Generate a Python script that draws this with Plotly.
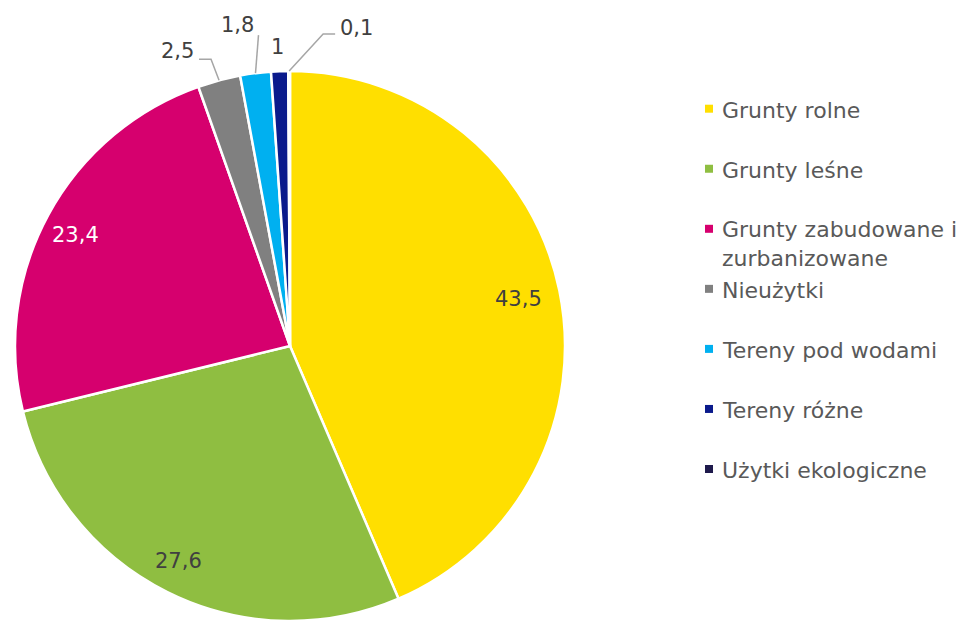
import math
import plotly.graph_objects as go

# Land-use structure (%)
categories = [
    "Grunty rolne",
    "Grunty leśne",
    "Grunty zabudowane i zurbanizowane",
    "Nieużytki",
    "Tereny pod wodami",
    "Tereny różne",
    "Użytki ekologiczne",
]
values = [43.5, 27.6, 23.4, 2.5, 1.8, 1.0, 0.1]
value_labels = ["43,5", "27,6", "23,4", "2,5", "1,8", "1", "0,1"]
legend_labels = [
    "Grunty rolne",
    "Grunty leśne",
    "Grunty zabudowane i<br>zurbanizowane",
    "Nieużytki",
    "Tereny pod wodami",
    "Tereny różne",
    "Użytki ekologiczne",
]
colors = ["#FFDF00", "#8FBE41", "#D6006E", "#808080", "#00B0F0", "#0A1A8C", "#1E1A4C"]

# ---- page geometry (pixels) ----
W, H = 977, 621
PIE_L, PIE_R, PIE_T, PIE_B = 15, 565, 71, 621
CX, CY = (PIE_L + PIE_R) / 2, (PIE_T + PIE_B) / 2
R = min(PIE_R - PIE_L, PIE_B - PIE_T) / 2

FONT = "DejaVu Sans"
LABEL_DARK = "#404040"
LEGEND_TEXT = "#595959"
LEADER = "#A6A6A6"


def px(x):
    return x / W


def py(y):
    return 1 - y / H


# mid angle of each slice, clockwise from 12 o'clock
total = sum(values)
mid_angles = []
acc = 0.0
for v in values:
    mid_angles.append((acc + v / 2) / total * 360.0)
    acc += v


def polar(angle_deg, radius):
    a = math.radians(angle_deg)
    return CX + radius * math.sin(a), CY - radius * math.cos(a)


fig = go.Figure(
    go.Pie(
        labels=categories,
        values=values,
        sort=False,
        direction="clockwise",
        rotation=0,
        marker=dict(colors=colors, line=dict(color="white", width=2.5)),
        textinfo="none",
        hoverinfo="label+value",
        showlegend=False,
        domain=dict(x=[px(PIE_L), px(PIE_R)], y=[py(PIE_B), py(PIE_T)]),
    )
)

annotations = []
shapes = []

# labels drawn inside the three large slices: (radius fraction, angle shift, colour)
inside_style = {
    0: (0.85, 0.0, LABEL_DARK),
    1: (0.88, 1.0, LABEL_DARK),
    2: (0.88, -1.0, "white"),
}
for i, (f, shift, col) in inside_style.items():
    x, y = polar(mid_angles[i] + shift, R * f)
    annotations.append(dict(
        x=px(x), y=py(y), xref="paper", yref="paper", text=value_labels[i],
        showarrow=False, xanchor="center", yanchor="middle",
        font=dict(family=FONT, size=21, color=col),
    ))

# small slices: leader-line bends and text offsets (pixels from the slice edge)
outside_style = {
    3: dict(path=[(-8, -21), (-20, -21)], text=(-23, -29), anchor="right"),
    4: dict(path=[(3, -38)], text=(1, -48), anchor="right"),
    5: dict(path=[], text=(-2, -24), anchor="center"),
    6: dict(path=[(34, -37), (46, -37)], text=(49, -43), anchor="left"),
}
for i, st in outside_style.items():
    ax, ay = polar(mid_angles[i], R)
    if st["path"]:
        pts = [(ax, ay)] + [(ax + dx, ay + dy) for dx, dy in st["path"]]
        d = "M " + " L ".join(f"{px(x):.5f},{py(y):.5f}" for x, y in pts)
        shapes.append(dict(type="path", xref="paper", yref="paper", path=d,
                           line=dict(color=LEADER, width=1.5)))
    tx, ty = ax + st["text"][0], ay + st["text"][1]
    annotations.append(dict(
        x=px(tx), y=py(ty), xref="paper", yref="paper", text=value_labels[i],
        showarrow=False, xanchor=st["anchor"], yanchor="middle",
        font=dict(family=FONT, size=21, color=LABEL_DARK),
    ))

# legend on the right: small square markers with category names
LEG_X_BOX = 705
LEG_BOX = 8
LEG_X_TEXT = 720
LEG_Y0 = 108.7
LEG_STEP = 60.05
LINE_H = 28
for i, (lab, col) in enumerate(zip(legend_labels, colors)):
    yc = LEG_Y0 + i * LEG_STEP
    shapes.append(dict(
        type="rect", xref="paper", yref="paper",
        x0=px(LEG_X_BOX), x1=px(LEG_X_BOX + LEG_BOX),
        y0=py(yc + LEG_BOX / 2), y1=py(yc - LEG_BOX / 2),
        fillcolor=col, line=dict(width=0),
    ))
    n_lines = lab.count("<br>") + 1
    ty = yc + 1.5 + (n_lines - 1) * LINE_H / 2
    annotations.append(dict(
        x=px(LEG_X_TEXT), y=py(ty), xref="paper", yref="paper", text=lab,
        showarrow=False, xanchor="left", yanchor="middle", align="left",
        font=dict(family=FONT, size=22, color=LEGEND_TEXT),
    ))

fig.update_layout(
    width=W, height=H,
    margin=dict(l=0, r=0, t=0, b=0),
    paper_bgcolor="white", plot_bgcolor="white",
    annotations=annotations, shapes=shapes,
    showlegend=False,
)

fig.write_html("out.html")
